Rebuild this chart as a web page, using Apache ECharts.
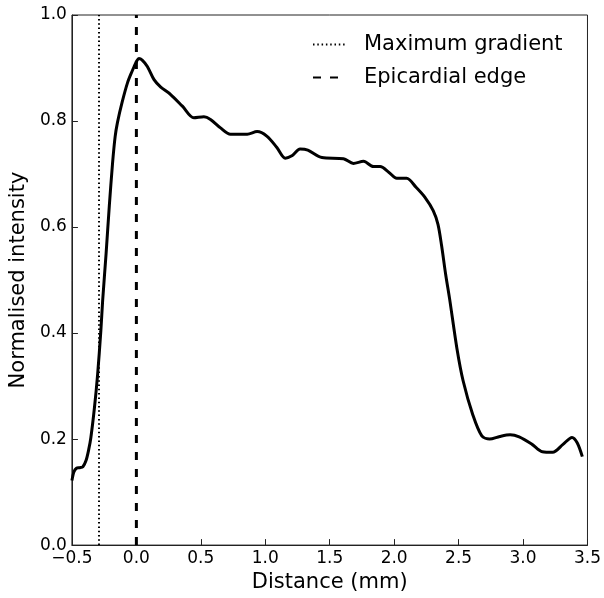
<!DOCTYPE html>
<html>
<head>
<meta charset="utf-8">
<script src="https://cdn.jsdelivr.net/npm/echarts@6/dist/echarts.min.js"></script>
<style>html,body{margin:0;padding:0;background:#fff;}#chart{width:604px;height:598px;}</style>
</head>
<body>
<div id="chart"></div>
<script>
// Distance (mm) and normalised intensity
var distance = [-0.5,-0.485,-0.465,-0.44,-0.415,-0.39,-0.37,-0.353,-0.325,-0.301,-0.276,-0.262,-0.235,-0.21,-0.185,-0.165,-0.147,-0.11,-0.069,-0.035,-0.017,0.0,0.02,0.045,0.085,0.137,0.189,0.266,0.357,0.446,0.524,0.575,0.653,0.73,0.86,0.937,1.014,1.09,1.155,1.21,1.27,1.33,1.44,1.607,1.684,1.762,1.84,1.891,1.96,2.02,2.097,2.17,2.239,2.303,2.34,2.368,2.40,2.43,2.487,2.535,2.61,2.68,2.74,2.82,2.9,2.97,3.07,3.15,3.23,3.31,3.38,3.42,3.46];
var intensity = [0.122,0.138,0.145,0.146,0.148,0.16,0.18,0.203,0.26,0.321,0.403,0.46,0.55,0.64,0.72,0.77,0.797,0.836,0.872,0.893,0.903,0.912,0.918,0.915,0.903,0.878,0.864,0.85,0.828,0.806,0.808,0.803,0.787,0.775,0.775,0.78,0.771,0.75,0.73,0.735,0.747,0.745,0.731,0.729,0.72,0.724,0.714,0.714,0.703,0.692,0.692,0.675,0.656,0.631,0.605,0.565,0.51,0.465,0.371,0.31,0.246,0.206,0.2,0.205,0.208,0.204,0.19,0.176,0.175,0.19,0.203,0.193,0.167];
var markerNames = ['Maximum gradient', 'Epicardial edge'];
var markerPositions = [-0.29, 0.0];
var xTicks = [-0.5, 0.0, 0.5, 1.0, 1.5, 2.0, 2.5, 3.0, 3.5];
var yTicks = [0.0, 0.2, 0.4, 0.6, 0.8, 1.0];

var curve = distance.map(function (d, i) { return [d, intensity[i]]; });
var font = 'DejaVu Sans';
var chart = echarts.init(document.getElementById('chart'), null, {renderer: 'canvas'});
chart.setOption({
  animation: false,
  backgroundColor: '#fff',
  grid: {left: 71, right: 16, top: 15, bottom: 50, show: true, borderColor: '#222', borderWidth: 1, backgroundColor: 'transparent'},
  legend: {
    data: markerNames,
    orient: 'vertical',
    left: 307, top: 29,
    itemWidth: 33, itemHeight: 20, itemGap: 12,
    itemStyle: {opacity: 0},
    textStyle: {fontFamily: font, fontSize: 21, color: '#000', padding: [0, 0, 0, 13]}
  },
  xAxis: {
    type: 'value', min: xTicks[0], max: xTicks[xTicks.length - 1], interval: 0.5,
    name: 'Distance (mm)', nameLocation: 'middle', nameGap: 22,
    nameTextStyle: {fontFamily: font, fontSize: 21, color: '#000'},
    axisLine: {onZero: false, lineStyle: {color: '#222', width: 1}},
    axisTick: {inside: true, length: 6, lineStyle: {color: '#222'}},
    axisLabel: {fontFamily: font, fontSize: 17, color: '#000', margin: 5,
      formatter: function (v) { return v.toFixed(1).replace('-', '\u2212'); }},
    splitLine: {show: false}
  },
  yAxis: {
    type: 'value', min: yTicks[0], max: yTicks[yTicks.length - 1], interval: 0.2,
    name: 'Normalised intensity', nameLocation: 'middle', nameGap: 42, nameRotate: 90,
    nameTextStyle: {fontFamily: font, fontSize: 21, color: '#000'},
    axisLine: {onZero: false, lineStyle: {color: '#222', width: 1}},
    axisTick: {inside: true, length: 6, lineStyle: {color: '#222'}},
    axisLabel: {fontFamily: font, fontSize: 17, color: '#000', margin: 5,
      formatter: function (v) { return v.toFixed(1); }},
    splitLine: {show: false}
  },
  series: [
    {
      name: 'Intensity', type: 'line', data: curve, smooth: 0.3, symbol: 'none',
      lineStyle: {color: '#000', width: 3}, z: 3
    },
    {
      name: markerNames[0], type: 'line', symbol: 'none',
      data: [[markerPositions[0], yTicks[0]], [markerPositions[0], yTicks[yTicks.length - 1]]],
      lineStyle: {color: '#000', width: 2, type: [1.5, 2.8]}, itemStyle: {color: '#000'}, z: 2
    },
    {
      name: markerNames[1], type: 'line', symbol: 'none',
      data: [[markerPositions[1], yTicks[0]], [markerPositions[1], yTicks[yTicks.length - 1]]],
      lineStyle: {color: '#000', width: 3, type: [8, 9]}, itemStyle: {color: '#000'}, z: 2
    }
  ]
});
</script>
</body>
</html>
